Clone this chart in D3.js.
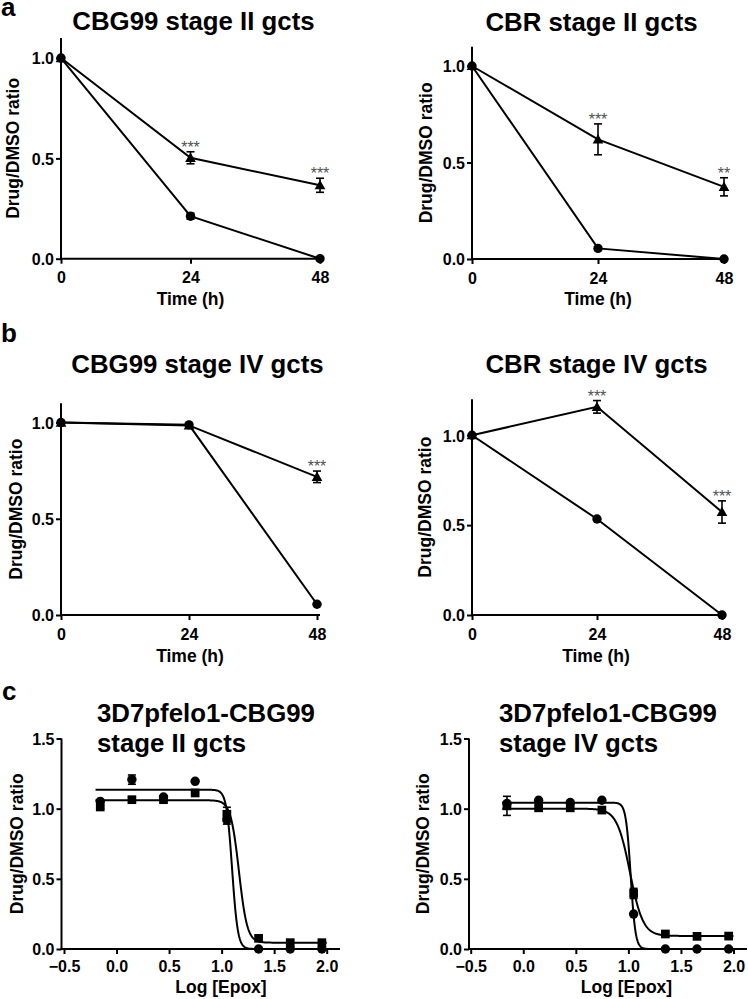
<!DOCTYPE html>
<html><head><meta charset="utf-8">
<script src="https://cdn.jsdelivr.net/npm/d3@7"></script>
<style>
body{margin:0;background:#fff}
svg{display:block}
text{font-family:"Liberation Sans",Arial,Helvetica,sans-serif;fill:#000}
</style>
</head><body>
<svg id="fig" width="748" height="999"></svg>
<script>
// ---------------- DATA ----------------
const timePoints = [0, 24, 48];
const timeTicks = [0, 24, 48];
const ratioTicksAB = [0.0, 0.5, 1.0];
const ratioTicksC = [0.0, 0.5, 1.0, 1.5];
const logTicks = [-0.5, 0.0, 0.5, 1.0, 1.5, 2.0];
const logEpox = [-0.155, 0.146, 0.447, 0.748, 1.050, 1.352, 1.653, 1.954];

// panel a, left: CBG99 stage II
const aL_tri = [1.0, 0.503, 0.366];
const aL_triErr = [0, 0.03, 0.035];
const aL_circ = [1.0, 0.212, 0.0];
const aL_circErr = [0, 0.015, 0];
const aL_stars = ["", "***", "***"];
// panel a, right: CBR stage II
const aR_tri = [1.0, 0.62, 0.374];
const aR_triErr = [0, 0.08, 0.047];
const aR_circ = [1.0, 0.055, 0.0];
const aR_circErr = [0, 0.006, 0];
const aR_stars = ["", "***", "**"];
// panel b, left: CBG99 stage IV
const bL_tri = [1.0, 0.985, 0.718];
const bL_triErr = [0, 0.008, 0.03];
const bL_circ = [1.0, 0.988, 0.056];
const bL_circErr = [0, 0, 0];
const bL_stars = ["", "", "***"];
// panel b, right: CBR stage IV
const bR_tri = [1.0, 1.158, 0.573];
const bR_triErr = [0, 0.035, 0.062];
const bR_circ = [1.0, 0.534, 0.0];
const bR_circErr = [0, 0, 0];
const bR_stars = ["", "***", "***"];

// panel c, left: 3D7pfelo1-CBG99 stage II
const cL_circ = [1.052, 1.207, 1.083, 1.195, 0.92, 0.0, 0.0, 0.0];
const cL_circErr = [0, 0.033, 0, 0, 0.03, 0, 0, 0];
const cL_sq = [1.012, 1.064, 1.064, 1.112, 0.96, 0.076, 0.045, 0.045];
const cL_sqErr = [0.01, 0, 0, 0, 0.05, 0, 0, 0];
const cL_circFit = [1.135, 0.0, 1.10, 16];   // top, bottom, logIC50, hill slope
const cL_sqFit = [1.06, 0.045, 1.165, 11];
// panel c, right: 3D7pfelo1-CBG99 stage IV
const cR_circ = [1.037, 1.06, 1.044, 1.06, 0.249, 0.0, 0.0, 0.0];
const cR_circErr = [0, 0, 0, 0, 0, 0, 0, 0];
const cR_sq = [1.02, 1.006, 1.006, 0.99, 0.396, 0.107, 0.09, 0.092];
const cR_sqErr = [0.068, 0, 0, 0, 0.036, 0, 0, 0];
const cR_circFit = [1.043, 0.0, 1.022, 19];
const cR_sqFit = [1.0, 0.093, 1.015, 7];

const fitRange = [-0.2, 2.0];

// ---------------- LAYOUT ----------------
const svg = d3.select("#fig");
const FONT_TICK = 16, FONT_AX = 17.5, FONT_YT = 17.5, FONT_TITLE = 25.8, FONT_LETTER = 26;

svg.append("text").attr("x", 1).attr("y", 16).attr("font-size", FONT_LETTER).attr("font-weight", "bold").text("a");
svg.append("text").attr("x", 1).attr("y", 341.5).attr("font-size", FONT_LETTER).attr("font-weight", "bold").text("b");
svg.append("text").attr("x", 2).attr("y", 700).attr("font-size", FONT_LETTER).attr("font-weight", "bold").text("c");

function hill(p, x) {
  const [top, bottom, ic, h] = p;
  return bottom + (top - bottom) / (1 + Math.pow(10, (x - ic) * h));
}

function drawPanel(cfg) {
  const g = svg.append("g");
  const x = d3.scaleLinear().domain(cfg.xDomain).range(cfg.xRange);
  const y = d3.scaleLinear().domain([0, cfg.yMax]).range([cfg.yBottom, cfg.yTop]);

  // title
  if (cfg.title.length === 1) {
    g.append("text").attr("x", cfg.titlePos[0]).attr("y", cfg.titlePos[1])
      .attr("text-anchor", "middle").attr("font-size", FONT_TITLE).attr("font-weight", "bold").text(cfg.title[0]);
  } else {
    cfg.title.forEach((t, i) => {
      g.append("text").attr("x", cfg.titlePos[0]).attr("y", cfg.titlePos[1] + i * 30)
        .attr("font-size", FONT_TITLE).attr("font-weight", "bold").text(t);
    });
  }

  // axes
  const yAxis = d3.axisLeft(y).tickValues(cfg.yTicks).tickFormat(d3.format(".1f")).tickSize(5).tickSizeOuter(0).tickPadding(3);
  const gy = g.append("g").attr("transform", `translate(${cfg.yAxisX},0)`).call(yAxis);
  gy.select(".domain").remove();
  g.append("line").attr("x1", cfg.yAxisX).attr("x2", cfg.yAxisX).attr("y1", cfg.yBottom + 1).attr("y2", cfg.yTop)
    .attr("stroke", "#000").attr("stroke-width", 2);

  const xAxis = d3.axisBottom(x).tickValues(cfg.xTicks).tickFormat(cfg.xFormat).tickSize(5).tickSizeOuter(0).tickPadding(5);
  const gx = g.append("g").attr("transform", `translate(0,${cfg.yBottom})`).call(xAxis);
  gx.select(".domain").remove();
  g.append("line").attr("x1", cfg.yAxisX - 1).attr("x2", cfg.xEnd).attr("y1", cfg.yBottom).attr("y2", cfg.yBottom)
    .attr("stroke", "#000").attr("stroke-width", 2);

  [gx, gy].forEach(a => {
    a.selectAll(".tick line").attr("stroke", "#000").attr("stroke-width", 2);
    a.selectAll(".tick text").attr("font-size", FONT_TICK).attr("font-weight", "bold")
      .attr("font-family", '"Liberation Sans",Arial,sans-serif').attr("fill", "#000");
  });
  gx.selectAll(".tick text").attr("dy", null).attr("y", cfg.xTickLabelY - cfg.yBottom);
  gy.selectAll(".tick text").attr("dy", "0.36em").attr("x", -7);

  // axis titles
  g.append("text").attr("x", cfg.xTitle[0]).attr("y", cfg.xTitle[1]).attr("text-anchor", "middle")
    .attr("font-size", FONT_AX).attr("font-weight", "bold").text(cfg.xLabel);
  const ytx = cfg.yTitle[0] + 0.25 * FONT_YT, yty = (cfg.yTop + cfg.yBottom) / 2;
  g.append("text").attr("transform", `translate(${ytx},${yty}) rotate(-90)`).attr("text-anchor", "middle")
    .attr("font-size", FONT_YT).attr("font-weight", "bold").text("Drug/DMSO ratio");

  // fitted curves
  (cfg.fits || []).forEach(p => {
    const xs = d3.range(fitRange[0], fitRange[1] + 1e-9, 0.004);
    g.append("path").datum(xs)
      .attr("d", d3.line().x(d => x(d)).y(d => y(hill(p, d))))
      .attr("fill", "none").attr("stroke", "#000").attr("stroke-width", 2);
  });

  // connecting lines
  (cfg.series || []).forEach(s => {
    if (!s.connect) return;
    g.append("path").datum(s.values)
      .attr("d", d3.line().x((d, i) => x(cfg.xs[i])).y(d => y(d)))
      .attr("fill", "none").attr("stroke", "#000").attr("stroke-width", 2);
  });

  // error bars + markers
  (cfg.series || []).forEach(s => {
    s.values.forEach((v, i) => {
      const e = s.err ? s.err[i] : 0;
      if (e > 0) {
        const cx = x(cfg.xs[i]);
        g.append("line").attr("x1", cx).attr("x2", cx).attr("y1", y(v - e)).attr("y2", y(v + e))
          .attr("stroke", "#000").attr("stroke-width", 1.6);
        [v - e, v + e].forEach(b => g.append("line").attr("x1", cx - 4).attr("x2", cx + 4)
          .attr("y1", y(b)).attr("y2", y(b)).attr("stroke", "#000").attr("stroke-width", 1.6));
      }
    });
  });
  (cfg.series || []).forEach(s => {
    const sym = d3.symbol().type(s.shape).size(s.size);
    s.values.forEach((v, i) => {
      const dy = s.shape === d3.symbolTriangle ? 1 : 0;
      g.append("path").attr("d", sym()).attr("fill", "#000")
        .attr("transform", `translate(${x(cfg.xs[i])},${y(v) + dy})`);
    });
  });

  // significance stars
  if (cfg.stars) {
    cfg.stars.forEach((st, i) => {
      if (!st) return;
      const s = cfg.starSeries;
      const top = s.values[i] + (s.err ? s.err[i] : 0);
      g.append("text").attr("x", x(cfg.xs[i])).attr("y", y(top) + 1).attr("text-anchor", "middle")
        .attr("font-size", 16).style("fill", "#505050").text(st);
    });
  }
}

const CIRC = d3.symbolCircle, TRI = d3.symbolTriangle, SQ = d3.symbolSquare;
const fmtTime = d3.format("d"), fmtLog = d3.format(".1f");

function timePanel(o) {
  const tri = {values: o.tri, err: o.triErr, shape: TRI, size: 50, connect: true};
  const circ = {values: o.circ, err: o.circErr, shape: CIRC, size: 70, connect: true};
  drawPanel({
    title: [o.title], titlePos: o.titlePos,
    xDomain: [0, 48], xRange: o.xRange, xEnd: o.xEnd, yAxisX: o.xRange[0],
    yMax: o.yMax, yBottom: o.yBottom, yTop: o.yTop, yTicks: ratioTicksAB,
    xTicks: timeTicks, xFormat: fmtTime, xTickLabelY: o.yBottom + 24.5,
    xLabel: "Time (h)", xTitle: o.xTitle, yTitle: o.yTitle,
    xs: timePoints, series: o.circOnTop ? [tri, circ] : [circ, tri],
    stars: o.stars, starSeries: tri
  });
}

timePanel({title: "CBG99 stage II gcts", titlePos: [193.5, 30], xRange: [61, 320], xEnd: 323,
  yMax: 1.1, yBottom: 258.7, yTop: 38, xTitle: [190.5, 304.5], yTitle: [15],
  tri: aL_tri, triErr: aL_triErr, circ: aL_circ, circErr: aL_circErr, stars: aL_stars});
timePanel({title: "CBR stage II gcts", titlePos: [591.5, 30.5], xRange: [472, 724], xEnd: 727,
  yMax: 1.1, yBottom: 259, yTop: 46.7, xTitle: [598, 304.5], yTitle: [428],
  tri: aR_tri, triErr: aR_triErr, circ: aR_circ, circErr: aR_circErr, stars: aR_stars});
timePanel({title: "CBG99 stage IV gcts", titlePos: [197.5, 372.5], xRange: [61, 317], xEnd: 320,
  yMax: 1.1, yBottom: 615, yTop: 403.3, xTitle: [190, 661.5], yTitle: [18],
  tri: bL_tri, triErr: bL_triErr, circ: bL_circ, circErr: bL_circErr, stars: bL_stars, circOnTop: true});
timePanel({title: "CBR stage IV gcts", titlePos: [596.5, 372.5], xRange: [472, 722], xEnd: 725,
  yMax: 1.2, yBottom: 615, yTop: 399.3, xTitle: [596, 661.5], yTitle: [426.5],
  tri: bR_tri, triErr: bR_triErr, circ: bR_circ, circErr: bR_circErr, stars: bR_stars});

function dosePanel(o) {
  drawPanel({
    title: o.title, titlePos: o.titlePos,
    xDomain: [-0.5, 2.0], xRange: o.xRange, xEnd: o.xEnd, yAxisX: o.yAxisX,
    yMax: 1.5, yBottom: 949, yTop: 738.5, yTicks: ratioTicksC,
    xTicks: logTicks, xFormat: fmtLog, xTickLabelY: 971.5,
    xLabel: "Log [Epox]", xTitle: o.xTitle, yTitle: o.yTitle,
    xs: logEpox, fits: o.fits,
    series: [
      {values: o.sq, err: o.sqErr, shape: SQ, size: 76, connect: false},
      {values: o.circ, err: o.circErr, shape: CIRC, size: 70, connect: false}
    ]
  });
}

dosePanel({title: ["3D7pfelo1-CBG99", "stage II gcts"], titlePos: [97, 721.7], xRange: [64, 326.7], xEnd: 340,
  yAxisX: 61.5, xTitle: [221, 993], yTitle: [18.3],
  circ: cL_circ, circErr: cL_circErr, sq: cL_sq, sqErr: cL_sqErr, fits: [cL_circFit, cL_sqFit]});
dosePanel({title: ["3D7pfelo1-CBG99", "stage IV gcts"], titlePos: [499, 721.7], xRange: [470.7, 733.5], xEnd: 747,
  yAxisX: 469, xTitle: [626.5, 993], yTitle: [424.5],
  circ: cR_circ, circErr: cR_circErr, sq: cR_sq, sqErr: cR_sqErr, fits: [cR_circFit, cR_sqFit]});
</script>
</body></html>
